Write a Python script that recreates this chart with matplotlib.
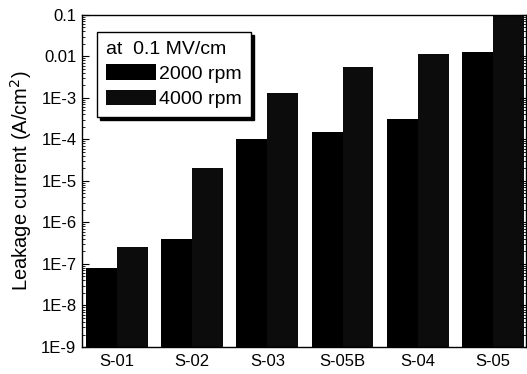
import numpy as np
import matplotlib
matplotlib.use("Agg")
import matplotlib.pyplot as plt
from matplotlib.ticker import LogLocator, FixedLocator, NullFormatter

plt.rcParams['font.family'] = ['Liberation Sans', 'DejaVu Sans']

samples = ["S-01", "S-02", "S-03", "S-05B", "S-04", "S-05"]
rpm2000 = [8e-8, 4e-7, 1.0e-4, 1.5e-4, 3.1e-4, 1.3e-2]
rpm4000 = [2.6e-7, 2.0e-5, 1.3e-3, 5.6e-3, 1.15e-2, 0.1]
ytick_vals = [1e-9, 1e-8, 1e-7, 1e-6, 1e-5, 1e-4, 1e-3, 1e-2, 1e-1]
ytick_labels = ["1E-9", "1E-8", "1E-7", "1E-6", "1E-5", "1E-4", "1E-3", "0.01", "0.1"]
legend_title = "at  0.1 MV/cm"
series_labels = ["2000 rpm", "4000 rpm"]

fig = plt.figure(figsize=(5.27, 3.74), dpi=100)
ax = fig.add_axes([0.1556, 0.0722, 0.8424, 0.888])

x = np.arange(len(samples))
w = 0.41
base = 1e-9
ax.bar(x - w/2, np.array(rpm2000) - base, w, bottom=base, color='black', label=series_labels[0])
ax.bar(x + w/2, np.array(rpm4000) - base, w, bottom=base, color='#0c0c0c', label=series_labels[1])

ax.set_yscale('log')
ax.set_ylim(1e-9, 0.1)
ax.set_xlim(-0.465, 5.44)
ax.yaxis.set_major_locator(FixedLocator(ytick_vals))
ax.set_yticklabels(ytick_labels)
ax.yaxis.set_minor_locator(LogLocator(base=10, subs=np.arange(2, 10), numticks=20))
ax.yaxis.set_minor_formatter(NullFormatter())
ax.set_xticks(x)
ax.set_xticklabels(samples)
ax.tick_params(axis='x', length=0, labelsize=12, pad=5)
ax.tick_params(axis='y', which='major', direction='in', length=5, right=True, labelsize=12, pad=4)
ax.tick_params(axis='y', which='minor', direction='in', length=2.5, right=True)
ax.set_ylabel("Leakage current (A/cm$^2$)", fontsize=14.5, labelpad=5)
for s in ax.spines.values():
    s.set_linewidth(1.0)

leg = ax.legend(title=legend_title, loc='upper left', bbox_to_anchor=(0.034, 0.949),
                frameon=True, fancybox=False, edgecolor='black', fontsize=14,
                title_fontsize=14, handlelength=2.6, handleheight=0.85,
                handletextpad=0.15, labelspacing=0.35, borderpad=0.45,
                borderaxespad=0.0,
                shadow={'color': 'black', 'alpha': 1})
leg.get_frame().set_linewidth(1.0)
leg._legend_box.align = "left"

fig.savefig("out.png", dpi=100)
